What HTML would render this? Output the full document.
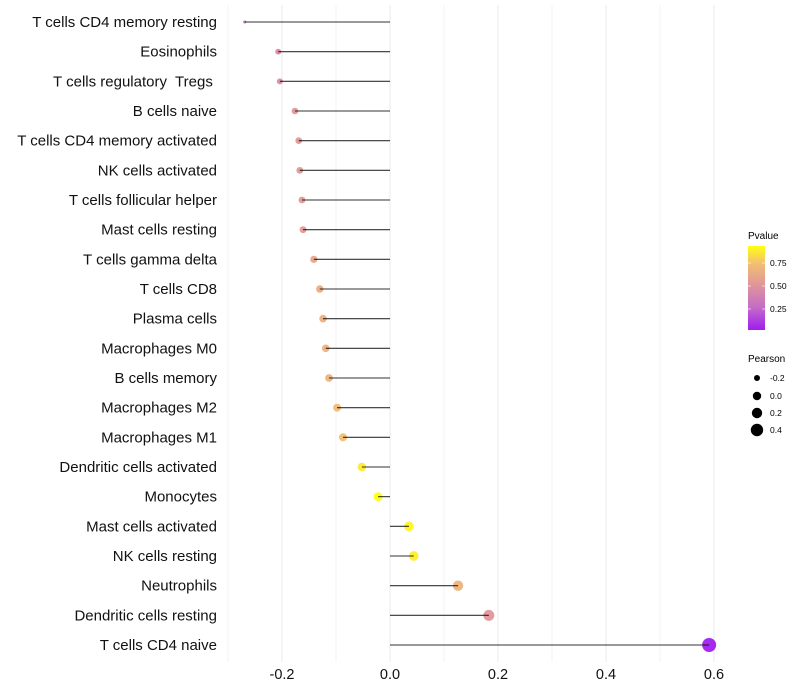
<!DOCTYPE html>
<html><head><meta charset="utf-8"><style>
body{margin:0;background:#fff;}
svg{display:block;font-family:"Liberation Sans",sans-serif;}
</style></head><body>
<svg id="chart" width="800" height="700" viewBox="0 0 800 700">
<defs><linearGradient id="pg" x1="0" y1="1" x2="0" y2="0">
<stop offset="0" stop-color="#A01CF0"/><stop offset="0.27" stop-color="#C46CC8"/><stop offset="0.54" stop-color="#E0969A"/><stop offset="0.8" stop-color="#F4C070"/><stop offset="1" stop-color="#FFFF10"/></linearGradient></defs>
<g id="grid"></g><g id="marks"></g><g id="labels"></g>
<g>
<text x="748" y="239" font-size="10" fill="#000">Pvalue</text>
<rect x="748" y="246" width="17" height="84" fill="url(#pg)"/>
<line x1="748" y1="263" x2="751" y2="263" stroke="#fff" stroke-opacity="0.6"/><line x1="762" y1="263" x2="765" y2="263" stroke="#fff" stroke-opacity="0.6"/>
<line x1="748" y1="286" x2="751" y2="286" stroke="#fff" stroke-opacity="0.6"/><line x1="762" y1="286" x2="765" y2="286" stroke="#fff" stroke-opacity="0.6"/>
<line x1="748" y1="309" x2="751" y2="309" stroke="#fff" stroke-opacity="0.6"/><line x1="762" y1="309" x2="765" y2="309" stroke="#fff" stroke-opacity="0.6"/>
<text x="770" y="266" font-size="8.5">0.75</text><text x="770" y="289" font-size="8.5">0.50</text><text x="770" y="312" font-size="8.5">0.25</text>
</g>
<g>
<text x="748" y="362" font-size="10">Pearson</text>
<circle cx="757" cy="378" r="3"/><text x="770" y="381" font-size="8.5">-0.2</text>
<circle cx="757" cy="396" r="4.2"/><text x="770" y="399" font-size="8.5">0.0</text>
<circle cx="757" cy="413" r="5.2"/><text x="770" y="416" font-size="8.5">0.2</text>
<circle cx="757" cy="430" r="6.2"/><text x="770" y="433" font-size="8.5">0.4</text>
</g>
</svg>
<script>
const categories=["T cells CD4 memory resting","Eosinophils","T cells regulatory  Tregs ","B cells naive","T cells CD4 memory activated","NK cells activated","T cells follicular helper","Mast cells resting","T cells gamma delta","T cells CD8","Plasma cells","Macrophages M0","B cells memory","Macrophages M2","Macrophages M1","Dendritic cells activated","Monocytes","Mast cells activated","NK cells resting","Neutrophils","Dendritic cells resting","T cells CD4 naive"];
const pearson=[-0.269,-0.207,-0.204,-0.176,-0.169,-0.167,-0.163,-0.161,-0.141,-0.130,-0.124,-0.119,-0.113,-0.098,-0.087,-0.052,-0.022,0.035,0.044,0.126,0.183,0.591];
const pvalue=[0.25,0.44,0.45,0.5,0.51,0.52,0.53,0.53,0.6,0.63,0.65,0.66,0.67,0.72,0.74,0.87,0.93,0.9,0.88,0.68,0.5,0.01];
const xTicks=[-0.2,0.0,0.2,0.4,0.6];
const xTickLabels=["-0.2","0.0","0.2","0.4","0.6"];
const NS="http://www.w3.org/2000/svg";
const X=v=>390+v*540;
const Y=i=>22+i*(623/21);
const stops=[[0,[160,28,240]],[0.25,[196,108,200]],[0.5,[224,150,154]],[0.75,[244,192,112]],[0.93,[255,255,16]]];
function col(p){for(let k=1;k<stops.length;k++){if(p<=stops[k][0]||k==stops.length-1){const a=stops[k-1],b=stops[k];let t=(p-a[0])/(b[0]-a[0]);t=Math.max(0,Math.min(1,t));return "rgb("+a[1].map((c,j)=>Math.round(c+(b[1][j]-c)*t)).join(",")+")";}}}
const R=v=>1.5+5.5*Math.sqrt(Math.max(0,v+0.269)/0.86);
function mk(t,a,p){const e=document.createElementNS(NS,t);for(const k in a)e.setAttribute(k,a[k]);p.appendChild(e);return e;}
const grid=document.getElementById('grid'),marks=document.getElementById('marks'),labels=document.getElementById('labels');
for(let v=-0.3;v<=0.65;v+=0.1){const l=mk('line',{x1:X(v),x2:X(v),y1:5,y2:662,stroke:'#ebebeb','stroke-width':0.6},grid);

}
xTicks.forEach((v,i)=>{const l=mk('line',{x1:X(v),x2:X(v),y1:5,y2:662,stroke:'#e8e8e8','stroke-width':1},grid);


const t=mk('text',{x:X(v),y:679,'text-anchor':'middle','font-size':14.5,fill:'#111'},labels);t.textContent=xTickLabels[i];

});
categories.forEach((c,i)=>{const y=Y(i);
const t=mk('text',{x:217,y:y+5,'text-anchor':'end','font-size':15,fill:'#111',style:'white-space:pre'},labels);t.textContent=c;


const p=mk('circle',{cx:X(pearson[i]),cy:y,r:R(pearson[i]),fill:col(pvalue[i]),'fill-opacity':0.95},marks);


const s=mk('line',{x1:X(0),x2:X(pearson[i]),y1:y,y2:y,stroke:'#000','stroke-width':1.1,'stroke-opacity':0.8},marks);

});
</script>
</body></html>
